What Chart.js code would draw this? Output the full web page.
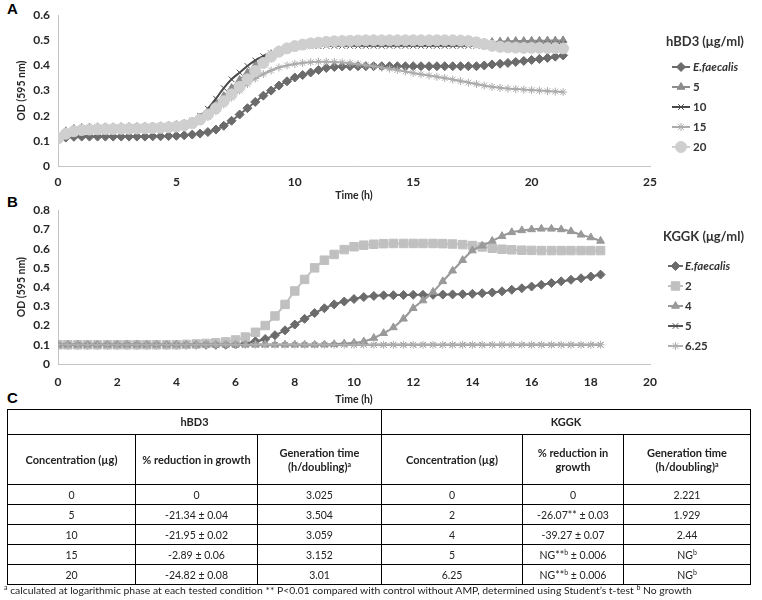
<!DOCTYPE html>
<html><head><meta charset="utf-8">
<script src="https://cdn.jsdelivr.net/npm/chart.js@4.4.1/dist/chart.umd.min.js"></script>
<style>
html,body{margin:0;padding:0;background:#fff;}
body{width:762px;height:600px;position:relative;overflow:hidden;font-family:Lato,'Open Sans',sans-serif;}
.panel{position:absolute;font-family:'Liberation Sans',Arial,sans-serif;font-weight:bold;font-size:15px;color:#000;line-height:15px;}
canvas{position:absolute;left:0;}
#ca{top:0;}
#cb{top:195px;}
table{position:absolute;left:7px;top:409px;border-collapse:collapse;table-layout:fixed;font-family:Lato,sans-serif;font-size:10.5px;color:#222;}
td{border:1px solid #000;text-align:center;padding:0;line-height:14px;}
td.h{font-weight:bold;font-size:11px;}
sup{font-size:7px;line-height:0;vertical-align:4px;}
.fn{position:absolute;left:4px;top:584px;font-size:10.4px;color:#222;white-space:nowrap;font-family:Lato,sans-serif;}
</style>
</head><body>
<div class="panel" style="left:7px;top:1px;">A</div>
<div class="panel" style="left:7px;top:194px;">B</div>
<div class="panel" style="left:7px;top:390px;">C</div>
<canvas id="ca" width="762" height="204"></canvas>
<canvas id="cb" width="762" height="212"></canvas>
<table id="tbl"></table>
<div class="fn"><sup>a</sup> calculated at logarithmic phase at each tested condition ** P&lt;0.01 compared with control without AMP, determined using Student’s t-test <sup>b</sup> No growth</div>
<script>
// ---------- Panel A data (hBD3) ----------
const timeA = [0,0.33,0.67,1,1.33,1.67,2,2.33,2.67,3,3.33,3.67,4,4.33,4.67,5,5.33,5.67,6,6.33,6.67,7,7.33,7.67,8,8.33,8.67,9,9.33,9.67,10,10.33,10.67,11,11.33,11.67,12,12.33,12.67,13,13.33,13.67,14,14.33,14.67,15,15.33,15.67,16,16.33,16.67,17,17.33,17.67,18,18.33,18.67,19,19.33,19.67,20,20.33,20.67,21,21.33];
const efA = [0.108,0.113,0.116,0.117,0.117,0.117,0.117,0.117,0.117,0.117,
  0.117,0.117,0.118,0.118,0.119,0.12,0.122,0.125,0.129,0.135,
  0.145,0.16,0.18,0.205,0.23,0.255,0.28,0.3,0.32,0.337,
  0.352,0.362,0.372,0.382,0.39,0.394,0.396,0.397,0.397,0.397,
  0.397,0.397,0.397,0.397,0.397,0.397,0.397,0.397,0.397,0.397,
  0.397,0.397,0.397,0.397,0.4,0.404,0.407,0.41,0.414,0.418,
  0.422,0.426,0.43,0.435,0.44];
const a5 = [0.11,0.138,0.148,0.152,0.153,0.154,0.154,0.154,0.155,0.155,
  0.155,0.156,0.157,0.158,0.16,0.163,0.168,0.177,0.193,0.215,
  0.245,0.278,0.31,0.342,0.372,0.4,0.425,0.445,0.46,0.47,
  0.477,0.482,0.485,0.487,0.488,0.489,0.49,0.49,0.49,0.49,
  0.49,0.49,0.49,0.49,0.49,0.49,0.49,0.49,0.49,0.49,
  0.49,0.49,0.49,0.49,0.491,0.493,0.495,0.496,0.497,0.497,
  0.498,0.498,0.499,0.499,0.5];
const a10 = [0.11,0.135,0.145,0.15,0.152,0.153,0.153,0.153,0.153,0.154,
  0.154,0.155,0.156,0.157,0.159,0.162,0.168,0.18,0.2,0.228,
  0.268,0.31,0.345,0.372,0.398,0.42,0.437,0.448,0.457,0.465,
  0.47,0.474,0.476,0.477,0.478,0.478,0.478,0.478,0.478,0.478,
  0.478,0.478,0.478,0.478,0.478,0.478,0.478,0.478,0.478,0.478,
  0.478,0.478,0.478,0.478,0.478,0.478,0.479,0.48,0.481,0.482,
  0.483,0.484,0.485,0.485,0.486];
const a15 = [0.11,0.13,0.14,0.143,0.145,0.146,0.146,0.147,0.147,0.148,
  0.148,0.149,0.15,0.151,0.153,0.156,0.16,0.167,0.178,0.195,
  0.218,0.245,0.272,0.3,0.326,0.348,0.366,0.38,0.392,0.4,
  0.406,0.41,0.413,0.415,0.415,0.414,0.412,0.409,0.405,0.401,
  0.397,0.392,0.387,0.382,0.376,0.37,0.365,0.36,0.355,0.35,
  0.344,0.338,0.332,0.326,0.32,0.315,0.311,0.308,0.306,0.304,
  0.302,0.3,0.298,0.296,0.294];
const a20 = [0.11,0.128,0.138,0.143,0.145,0.146,0.147,0.147,0.148,0.148,
  0.149,0.15,0.151,0.152,0.154,0.157,0.162,0.17,0.185,0.205,
  0.23,0.258,0.285,0.315,0.345,0.378,0.41,0.435,0.455,0.468,
  0.477,0.483,0.488,0.491,0.494,0.496,0.497,0.498,0.499,0.5,
  0.5,0.5,0.5,0.5,0.5,0.5,0.5,0.5,0.5,0.5,
  0.5,0.499,0.497,0.492,0.485,0.478,0.474,0.472,0.471,0.47,
  0.47,0.47,0.469,0.469,0.468];
const labelsA = ['E.faecalis','5','10','15','20'];
const ticksAX = [0,5,10,15,20,25];
const ticksAY = [0,0.1,0.2,0.3,0.4,0.5,0.6];

// ---------- Panel B data (KGGK) ----------
const timeB = [0,0.33,0.67,1,1.33,1.67,2,2.33,2.67,3,3.33,3.67,4,4.33,4.67,5,5.33,5.67,6,6.33,6.67,7,7.33,7.67,8,8.33,8.67,9,9.33,9.67,10,10.33,10.67,11,11.33,11.67,12,12.33,12.67,13,13.33,13.67,14,14.33,14.67,15,15.33,15.67,16,16.33,16.67,17,17.33,17.67,18,18.33];
const efB = [0.1,0.1,0.1,0.1,0.1,0.1,0.1,0.1,0.1,0.1,
  0.1,0.1,0.1,0.1,0.1,0.1,0.1,0.1,0.102,0.108,
  0.118,0.13,0.15,0.175,0.205,0.235,0.265,0.29,0.31,0.325,
  0.338,0.348,0.354,0.357,0.358,0.359,0.36,0.36,0.36,0.361,
  0.362,0.363,0.365,0.368,0.372,0.378,0.386,0.394,0.403,0.412,
  0.421,0.43,0.438,0.446,0.455,0.465];
const b2 = [0.1,0.1,0.1,0.1,0.1,0.1,0.1,0.1,0.1,0.1,
  0.1,0.1,0.1,0.102,0.104,0.107,0.11,0.115,0.125,0.14,
  0.165,0.2,0.25,0.31,0.38,0.44,0.5,0.54,0.57,0.595,
  0.61,0.618,0.623,0.626,0.627,0.627,0.627,0.627,0.627,0.626,
  0.624,0.621,0.616,0.609,0.602,0.597,0.594,0.592,0.591,0.59,
  0.59,0.59,0.59,0.59,0.59,0.59];
const b4 = [0.1,0.1,0.1,0.1,0.1,0.1,0.1,0.1,0.1,0.1,
  0.1,0.1,0.1,0.1,0.1,0.1,0.1,0.1,0.1,0.1,
  0.1,0.1,0.1,0.1,0.1,0.1,0.1,0.101,0.103,0.106,
  0.11,0.117,0.135,0.16,0.19,0.235,0.29,0.33,0.375,0.43,
  0.485,0.54,0.59,0.615,0.64,0.665,0.685,0.695,0.7,0.703,
  0.703,0.7,0.69,0.672,0.658,0.64];
const b5 = [0.1,0.1,0.1,0.1,0.1,0.1,0.1,0.1,0.1,0.1,
  0.1,0.1,0.1,0.1,0.1,0.1,0.1,0.1,0.1,0.1,
  0.1,0.1,0.1,0.1,0.1,0.1,0.1,0.1,0.1,0.1,
  0.1,0.1,0.1,0.1,0.1,0.1,0.1,0.1,0.1,0.1,
  0.1,0.1,0.1,0.1,0.1,0.1,0.1,0.1,0.1,0.1,
  0.1,0.1,0.1,0.1,0.1,0.1];
const b625 = [0.1,0.1,0.1,0.1,0.1,0.1,0.1,0.1,0.1,0.1,
  0.1,0.1,0.1,0.1,0.1,0.1,0.1,0.1,0.1,0.1,
  0.1,0.1,0.1,0.1,0.1,0.1,0.1,0.1,0.1,0.1,
  0.1,0.1,0.1,0.1,0.1,0.1,0.1,0.1,0.1,0.1,
  0.1,0.1,0.1,0.1,0.1,0.1,0.1,0.1,0.1,0.1,
  0.1,0.1,0.1,0.1,0.1,0.1];
const labelsB = ['E.faecalis','2','4','5','6.25'];
const ticksBX = [0,2,4,6,8,10,12,14,16,18,20];
const ticksBY = [0,0.1,0.2,0.3,0.4,0.5,0.6,0.7,0.8];

// ---------- Panel C table data ----------
const hbd3Conc = ['0','5','10','15','20'];
const hbd3Red = ['0','-21.34 ± 0.04','-21.95 ± 0.02','-2.89 ± 0.06','-24.82 ± 0.08'];
const hbd3Gen = ['3.025','3.504','3.059','3.152','3.01'];
const kggkConc = ['0','2','4','5','6.25'];
const kggkRed = ['0','-26.07** ± 0.03','-39.27 ± 0.07','NG**<sup>b</sup> ± 0.006','NG**<sup>b</sup> ± 0.006'];
const kggkGen = ['2.221','1.929','2.44','NG<sup>b</sup>','NG<sup>b</sup>'];

// ---------- helpers ----------
const FONT = 'Lato, "Open Sans", sans-serif';
function series(label, times, vals, style) {
  return Object.assign({
    label, data: times.map((t, i) => ({x: t, y: vals[i]})),
    borderWidth: 2, cubicInterpolationMode: 'monotone', fill: false,
    pointBorderWidth: 1
  }, style);
}
function styleOf(color, pointStyle, radius, italic) {
  return {borderColor: color, backgroundColor: color, pointBackgroundColor: color,
    pointBorderColor: color, pointStyle, pointRadius: radius, italic: !!italic};
}
const sideLegend = {
  id: 'sideLegend',
  afterDraw(chart, args, o) {
    const ctx = chart.ctx;
    ctx.save();
    ctx.textBaseline = 'middle';
    ctx.textAlign = 'left';
    ctx.fillStyle = '#333';
    ctx.font = 'bold 13px ' + FONT;
    ctx.fillText(o.title, o.titleX, o.titleY);
    chart.data.datasets.forEach((ds, i) => {
      const y = o.y0 + i * o.dy;
      ctx.strokeStyle = ds.borderColor; ctx.lineWidth = 2;
      ctx.beginPath(); ctx.moveTo(o.lx1, y); ctx.lineTo(o.lx2, y); ctx.stroke();
      ctx.fillStyle = ds.pointBackgroundColor; ctx.strokeStyle = ds.pointBorderColor; ctx.lineWidth = 1;
      Chart.helpers.drawPoint(ctx, {pointStyle: ds.pointStyle, radius: ds.pointRadius, rotation: 0, borderWidth: 1}, (o.lx1 + o.lx2) / 2, y);
      ctx.fillStyle = '#333';
      ctx.font = (ds.italic ? 'italic ' : '') + 'bold 11.5px ' + FONT;
      ctx.fillText(ds.label, o.tx, y);
    });
    ctx.restore();
  }
};
function makeChart(id, datasets, xmax, xstep, ymax, axH, xtPad, xtitlePad, legend) {
  datasets.forEach((d, i) => d.order = -i);
  return new Chart(document.getElementById(id), {
    type: 'line',
    data: {datasets},
    plugins: [sideLegend],
    options: {
      responsive: false, animation: false, devicePixelRatio: 1,
      layout: {padding: {left: 0, right: 112, top: 10, bottom: 0}},
      plugins: {legend: {display: false}, tooltip: {enabled: false}, sideLegend: legend},
      scales: {
        x: {type: 'linear', min: 0, max: xmax,
          afterFit: s => { s.height = axH; },
          grid: {display: false, drawTicks: false},
          border: {display: true, color: '#c4c4c4', width: 1},
          ticks: {stepSize: xstep, padding: xtPad, color: '#262626', font: {family: FONT, weight: 'bold', size: 12}},
          title: {display: true, text: 'Time (h)', color: '#262626', font: {family: FONT, weight: 'bold', size: 10.5}, padding: {top: 0, bottom: xtitlePad}}
        },
        y: {min: 0, max: ymax,
          afterFit: s => { s.width = 58; },
          grid: {display: false, drawTicks: false},
          border: {display: true, color: '#c4c4c4', width: 1},
          ticks: {stepSize: 0.1, padding: 8, color: '#262626', font: {family: FONT, weight: 'bold', size: 12}},
          title: {display: true, text: 'OD (595 nm)', color: '#262626', font: {family: FONT, weight: 'bold', size: 10.5}, padding: {top: 15, bottom: 0}}
        }
      }
    }
  });
}

const dsA = [
  series(labelsA[0], timeA, efA, styleOf('#6b6b6b', 'rectRot', 4.5, true)),
  series(labelsA[1], timeA, a5, styleOf('#8c8c8c', 'triangle', 4.5)),
  series(labelsA[2], timeA, a10, styleOf('#4a4a4a', 'crossRot', 4)),
  series(labelsA[3], timeA, a15, styleOf('#ababab', 'star', 4)),
  series(labelsA[4], timeA, a20, styleOf('#cfcfcf', 'circle', 5.5))
];
makeChart('ca', dsA, ticksAX[ticksAX.length - 1], ticksAX[1] - ticksAX[0], ticksAY[ticksAY.length - 1], 38, 9, 2,
  {title: 'hBD3 (μg/ml)', titleX: 666, titleY: 42, y0: 67, dy: 20, lx1: 672, lx2: 690, tx: 693});

const dsB = [
  series(labelsB[0], timeB, efB, styleOf('#6b6b6b', 'rectRot', 4.5, true)),
  series(labelsB[1], timeB, b2, styleOf('#c0c0c0', 'rect', 6)),
  series(labelsB[2], timeB, b4, styleOf('#999999', 'triangle', 4.5)),
  series(labelsB[3], timeB, b5, styleOf('#555555', 'crossRot', 4)),
  series(labelsB[4], timeB, b625, styleOf('#b0b0b0', 'star', 4))
];
makeChart('cb', dsB, ticksBX[ticksBX.length - 1], ticksBX[1] - ticksBX[0], ticksBY[ticksBY.length - 1], 43, 11, 1,
  {title: 'KGGK (μg/ml)', titleX: 663, titleY: 42, y0: 71, dy: 20, lx1: 668, lx2: 683, tx: 685});

// ---------- table ----------
(function buildTable() {
  const widths = [128, 122, 124, 141, 101, 127];
  let html = '<colgroup>' + widths.map(w => `<col style="width:${w}px">`).join('') + '</colgroup>';
  html += '<tr style="height:25px"><td class="h" colspan="3">hBD3</td><td class="h" colspan="3">KGGK</td></tr>';
  const hdr = ['Concentration (µg)', '% reduction in growth', 'Generation time<br>(h/doubling)<sup>a</sup>',
               'Concentration (µg)', '% reduction in<br>growth', 'Generation time<br>(h/doubling)<sup>a</sup>'];
  html += '<tr style="height:50px">' + hdr.map(h => `<td class="h">${h}</td>`).join('') + '</tr>';
  for (let i = 0; i < hbd3Conc.length; i++) {
    html += `<tr style="height:20px"><td>${hbd3Conc[i]}</td><td>${hbd3Red[i]}</td><td>${hbd3Gen[i]}</td>` +
            `<td>${kggkConc[i]}</td><td>${kggkRed[i]}</td><td>${kggkGen[i]}</td></tr>`;
  }
  document.getElementById('tbl').innerHTML = html;
})();
</script>
</body></html>
